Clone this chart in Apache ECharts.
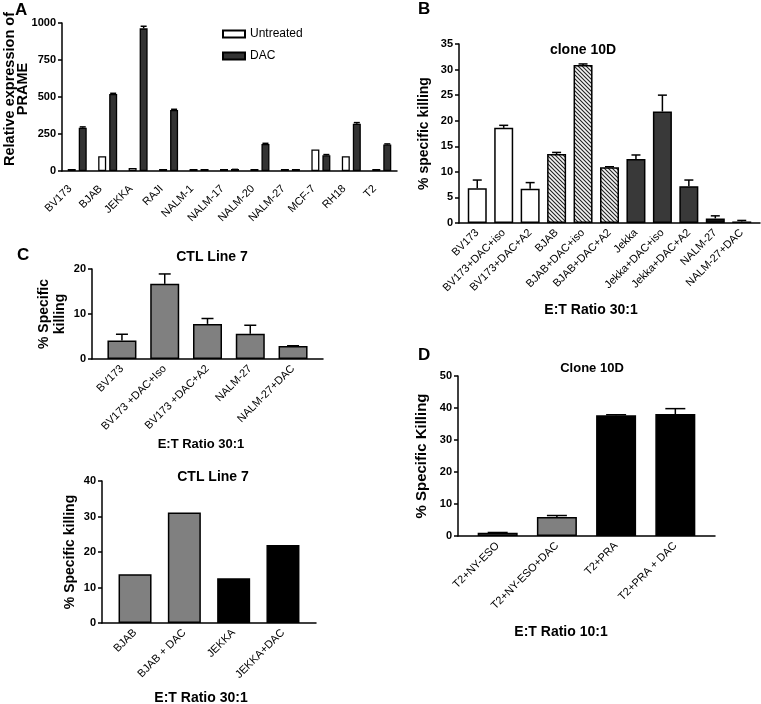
<!DOCTYPE html>
<html><head><meta charset="utf-8">
<script src="https://cdn.jsdelivr.net/npm/echarts@6/dist/echarts.min.js"></script>
<style>html,body{margin:0;padding:0;background:#fff}#c{width:761px;height:704px}</style>
</head><body><div id="c"></div>
<script>
// ---------- Panel A : relative expression of PRAME ----------
const catsA = ['BV173','BJAB','JEKKA','RAJI','NALM-1','NALM-17','NALM-20','NALM-27','MCF-7','RH18','T2'];
const untreatedA = [4, 100, 20, 4, 4, 4, 5, 4, 145, 100, 5];
const dacA = [293, 520, 964, 412, 4, 9, 182, 4, 106, 320, 179];
const dacErrA = [5, 5, 14, 5, 0, 2, 5, 0, 5, 7, 4];
const ticksA = [0, 250, 500, 750, 1000];

// ---------- Panel B : clone 10D ----------
const catsB = ['BV173','BV173+DAC+iso','BV173+DAC+A2','BJAB','BJAB+DAC+iso','BJAB+DAC+A2','Jekka','Jekka+DAC+iso','Jekka+DAC+A2','NALM-27','NALM-27+DAC'];
const valB = [6.8, 18.6, 6.7, 13.5, 30.9, 10.9, 12.5, 21.8, 7.2, 0.9, 0.3];
const errB = [1.6, 0.5, 1.2, 0.3, 0.2, 0.1, 0.8, 3.2, 1.2, 0.5, 0.2];
const ticksB = [0, 5, 10, 15, 20, 25, 30, 35];

// ---------- Panel C (top) : CTL Line 7 ----------
const catsC1 = ['BV173','BV173 +DAC+Iso','BV173 +DAC+A2','NALM-27','NALM-27+DAC'];
const valC1 = [4.1, 16.7, 7.8, 5.6, 2.9];
const errC1 = [1.4, 2.2, 1.2, 1.9, 0.05];
const ticksC1 = [0, 10, 20];

// ---------- Panel C (bottom) : CTL Line 7 ----------
const catsC2 = ['BJAB','BJAB + DAC','JEKKA','JEKKA+DAC'];
const valC2 = [13.7, 31.1, 12.6, 22.0];
const ticksC2 = [0, 10, 20, 30, 40];

// ---------- Panel D : Clone 10D ----------
const catsD = ['T2+NY-ESO','T2+NY-ESO+DAC','T2+PRA','T2+PRA + DAC'];
const valD = [1.0, 5.9, 37.7, 38.1];
const errD = [0.1, 0.5, 0.2, 1.7];
const ticksD = [0, 10, 20, 30, 40, 50];

const FONT = '"Liberation Sans", Arial, Helvetica, sans-serif';
const BLACK = '#000';

function hatchPattern() {
  const s = 4, c = document.createElement('canvas');
  c.width = s; c.height = s;
  const g = c.getContext('2d');
  g.fillStyle = '#f4f4f4'; g.fillRect(0, 0, s, s);
  g.strokeStyle = '#222'; g.lineWidth = 1.1;
  g.beginPath();
  g.moveTo(-1, -1); g.lineTo(s + 1, s + 1);
  g.moveTo(-1, s - 1); g.lineTo(1, s + 1);
  g.moveTo(s - 1, -1); g.lineTo(s + 1, 1);
  g.stroke();
  return { image: c, repeat: 'repeat' };
}
const HATCH = hatchPattern();

const grids = [], xAxes = [], yAxes = [], series = [];

function yAxisCfg(gi, ticks, name, nameGap, nameSize) {
  return {
    type: 'value', gridIndex: gi, min: ticks[0], max: ticks[ticks.length - 1], interval: ticks[1] - ticks[0],
    axisLine: { show: true, onZero: false, lineStyle: { color: BLACK, width: 1.5 } },
    axisTick: { show: true, length: 4, lineStyle: { color: BLACK, width: 1.5 } },
    axisLabel: { color: BLACK, fontFamily: FONT, fontSize: 11, fontWeight: 'bold', margin: 6, formatter: v => String(v) },
    splitLine: { show: false },
    name: name, nameLocation: 'middle', nameRotate: 90, nameGap: nameGap, nameMoveOverlap: false,
    nameTextStyle: { fontFamily: FONT, fontWeight: 'bold', fontSize: nameSize, color: BLACK, lineHeight: nameSize + 2 }
  };
}

function xValueAxis(gi, cats, pad) {
  return {
    type: 'value', gridIndex: gi, min: -0.5 - pad, max: cats.length - 0.5 + pad,
    axisLine: { show: true, onZero: false, lineStyle: { color: BLACK, width: 1.5 } },
    axisTick: { show: false }, splitLine: { show: false },
    axisLabel: {
      customValues: cats.map((_, i) => i),
      formatter: v => cats[Math.round(v)],
      rotate: 45, color: BLACK, fontFamily: FONT, fontSize: 11, margin: 8
    }
  };
}

function errorSeries(ax, vals, errs, capHalf, offsetPx) {
  return {
    type: 'custom', xAxisIndex: ax, yAxisIndex: ax, z: 5, silent: true,
    encode: { x: 0, y: 1 },
    data: vals.map((v, i) => [i, v, errs[i]]),
    renderItem: function (params, api) {
      const x = api.value(0), v = api.value(1), e = api.value(2);
      if (!e) return null;
      const p0 = api.coord([x, v]), p1 = api.coord([x, v + e]);
      const cx = p0[0] + (offsetPx || 0);
      return {
        type: 'group', children: [
          { type: 'line', shape: { x1: cx, y1: p0[1], x2: cx, y2: p1[1] }, style: { stroke: BLACK, lineWidth: 1.5 } },
          { type: 'line', shape: { x1: cx - capHalf, y1: p1[1], x2: cx + capHalf, y2: p1[1] }, style: { stroke: BLACK, lineWidth: 1.5 } }
        ]
      };
    }
  };
}

function killingPanel(rect, cats, vals, errs, ticks, pad, barW, capHalf, colorFor, yName, nameGap, nameSize) {
  const gi = grids.length;
  grids.push(Object.assign({ containLabel: false, outerBoundsMode: 'none' }, rect));
  xAxes.push(xValueAxis(gi, cats, pad));
  yAxes.push(yAxisCfg(gi, ticks, yName, nameGap, nameSize));
  series.push({
    type: 'bar', xAxisIndex: gi, yAxisIndex: gi, barWidth: barW, z: 3, barMinHeight: 1,
    itemStyle: { borderColor: BLACK, borderWidth: 1.5 },
    data: vals.map((v, i) => ({ value: [i, v], itemStyle: { color: colorFor(cats[i]) } }))
  });
  if (errs) series.push(errorSeries(gi, vals, errs, capHalf, 0));
}

// ---- Panel A (category axis, grouped bars) ----
const barWA = 8, gapA = 3;
grids.push({ left: 62, top: 23, width: 335, height: 148, containLabel: false, outerBoundsMode: 'none' });
xAxes.push({
  type: 'category', gridIndex: 0, data: catsA,
  axisLine: { show: true, lineStyle: { color: BLACK, width: 1.5 } },
  axisTick: { show: false },
  axisLabel: { interval: 0, rotate: 45, color: BLACK, fontFamily: FONT, fontSize: 11, margin: 9, padding: [0, 10, 0, 0] }
});
yAxes.push(yAxisCfg(0, ticksA, '', 36, 14));
series.push({
  name: 'Untreated', type: 'bar', xAxisIndex: 0, yAxisIndex: 0, data: untreatedA,
  barWidth: barWA, barGap: (gapA / barWA * 100) + '%', barMinHeight: 2,
  itemStyle: { color: '#fff', borderColor: BLACK, borderWidth: 1.3 }
});
series.push({
  name: 'DAC', type: 'bar', xAxisIndex: 0, yAxisIndex: 0, data: dacA,
  barWidth: barWA, barGap: (gapA / barWA * 100) + '%', barMinHeight: 2,
  itemStyle: { color: '#333', borderColor: BLACK, borderWidth: 1.3 }
});
series.push(errorSeries(0, dacA, dacErrA, 3, (barWA + gapA) / 2));

// ---- Panel B ----
killingPanel({ left: 459, top: 44, width: 301, height: 179 }, catsB, valB, errB, ticksB, 0.19, 19, 4.5,
  n => n.startsWith('BV173') ? '#fff' : n.startsWith('BJAB') ? HATCH : n.startsWith('Jekka') ? '#393939' : '#111',
  '% specific killing', 27, 14);

// ---- Panel C top ----
killingPanel({ left: 92, top: 269, width: 231, height: 90 }, catsC1, valC1, errC1, ticksC1, 0.2, 29, 6,
  n => '#808080', '% Specific\nkilling', 24, 14);

// ---- Panel C bottom ----
killingPanel({ left: 102, top: 481, width: 214, height: 142 }, catsC2, valC2, null, ticksC2, 0.17, 33, 0,
  n => n.startsWith('BJAB') ? '#808080' : '#000', '% Specific killing', 24, 14);

// ---- Panel D ----
killingPanel({ left: 458, top: 376, width: 257, height: 160 }, catsD, valD, errD, ticksD, 0.17, 40, 10,
  n => n.includes('NY-ESO') ? '#808080' : '#000', '% Specific Killing', 28, 15);

function txt(text, x, y, size, align, rot, lh) {
  const el = {
    type: 'text', x: x, y: y, silent: true,
    style: { text: text, font: 'bold ' + size + 'px ' + FONT, fill: BLACK,
      textAlign: align || 'center', textVerticalAlign: 'middle' }
  };
  if (rot) el.rotation = rot;
  if (lh) el.style.lineHeight = lh;
  return el;
}

const option = {
  animation: false,
  backgroundColor: '#fff',
  grid: grids, xAxis: xAxes, yAxis: yAxes, series: series,
  legend: {
    data: ['Untreated', 'DAC'], orient: 'vertical', left: 222, top: 28, padding: 0,
    icon: 'rect', itemWidth: 22, itemHeight: 7, itemGap: 10,
    textStyle: { fontFamily: FONT, fontSize: 12, color: BLACK }
  },
  graphic: [
    txt('A', 15, 10, 17, 'left'),
    txt('B', 418, 9, 17, 'left'),
    txt('C', 17, 255, 17, 'left'),
    txt('D', 418, 355, 17, 'left'),
    txt('Relative expression of\nPRAME', 16, 89, 14.5, 'center', Math.PI / 2, 13),
    txt('clone 10D', 583, 50, 14),
    txt('E:T Ratio 30:1', 591, 310, 14),
    txt('CTL Line 7', 212, 257, 14),
    txt('E:T Ratio 30:1', 201, 444, 13),
    txt('CTL Line 7', 213, 477, 14),
    txt('E:T Ratio 30:1', 201, 698, 14),
    txt('Clone 10D', 592, 368, 13),
    txt('E:T Ratio 10:1', 561, 632, 14)
  ]
};
const chart = echarts.init(document.getElementById('c'), null, { renderer: 'canvas' });
chart.setOption(option);
</script>
</body></html>
